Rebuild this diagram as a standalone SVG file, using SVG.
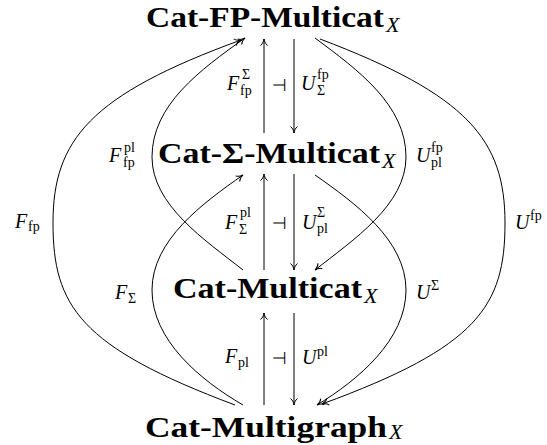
<svg xmlns="http://www.w3.org/2000/svg" width="547" height="445" viewBox="0 0 547 445">
<style>
.n{font-family:"Liberation Serif",serif;font-weight:bold;font-size:29px;fill:#000}
.x{font-family:"Liberation Serif",serif;font-style:italic;font-size:22px;fill:#000}
.m{font-family:"Liberation Serif",serif;font-style:italic;font-size:20px;fill:#000}
.s{font-family:"Liberation Serif",serif;font-size:14px;fill:#000}
.adj{font-family:"DejaVu Sans",sans-serif;font-size:17px;text-anchor:middle;fill:#000}
.c{fill:none;stroke:#000;stroke-width:1;marker-end:url(#ah)}
</style>
<defs>
<marker id="ah" viewBox="-8 -5 10 10" refX="0" refY="0" markerWidth="10" markerHeight="10" markerUnits="userSpaceOnUse" orient="auto" overflow="visible">
<path d="M-6.5,-3.5 C-5,-1.2 -1.5,-0.2 0,0 C-1.5,0.2 -5,1.2 -6.5,3.5" fill="none" stroke="#000" stroke-width="1"/>
</marker>
</defs>
<g id="node-fp">
<text class="n" x="146" y="27" textLength="238" lengthAdjust="spacingAndGlyphs">Cat-FP-Multicat</text>
<text class="x" x="386" y="32">X</text>
</g>
<g id="node-sigma">
<text class="n" x="158" y="163" textLength="222" lengthAdjust="spacingAndGlyphs">Cat-Σ-Multicat</text>
<text class="x" x="382" y="168">X</text>
</g>
<g id="node-multicat">
<text class="n" x="173" y="298" textLength="189" lengthAdjust="spacingAndGlyphs">Cat-Multicat</text>
<text class="x" x="364" y="303">X</text>
</g>
<g id="node-multigraph">
<text class="n" x="145" y="437" textLength="242" lengthAdjust="spacingAndGlyphs">Cat-Multigraph</text>
<text class="x" x="389" y="439">X</text>
</g>
<g id="connectors">
<path class="c" d="M235,405 C80,347 53,306 53,223 C53,140 90,95 241,40"/>
<path class="c" d="M243,270 C205,240 152,205 152,157 C152,105 200,70 245,38"/>
<path class="c" d="M243,405 C200,380 152,340 152,290 C152,240 203,203 243,175"/>
<path class="c" d="M320,39 C468,95 505,140 505,223 C505,306 478,347 322,404"/>
<path class="c" d="M315,38 C358,70 406,105 406,157 C406,205 353,240 315,270"/>
<path class="c" d="M315,175 C355,203 406,240 406,290 C406,340 358,380 317,405"/>
<path class="c" d="M264,133 V39"/>
<path class="c" d="M294,39 V133"/>
<path class="c" d="M264,270 V174"/>
<path class="c" d="M294,174 V270"/>
<path class="c" d="M264,405 V313"/>
<path class="c" d="M294,313 V405"/>
</g>
<g id="labels">
<text class="m" x="15" y="228">F</text><text class="s" x="28" y="231">fp</text>
<text class="m" x="109" y="162">F</text><text class="s" x="124" y="152">pl</text><text class="s" x="123" y="167">fp</text>
<text class="m" x="115" y="299">F</text><text class="s" x="128" y="303">Σ</text>
<text class="m" x="227" y="90">F</text><text class="s" x="242" y="79">Σ</text><text class="s" x="240" y="95">fp</text>
<text class="adj" x="279.5" y="91">⊣</text>
<text class="m" x="301" y="90">U</text><text class="s" x="317" y="79">fp</text><text class="s" x="317" y="95">Σ</text>
<text class="m" x="416" y="162">U</text><text class="s" x="431" y="152">fp</text><text class="s" x="431" y="167">pl</text>
<text class="m" x="225" y="229">F</text><text class="s" x="240" y="217">pl</text><text class="s" x="239" y="234">Σ</text>
<text class="adj" x="279.5" y="229">⊣</text>
<text class="m" x="302" y="229">U</text><text class="s" x="317" y="217">Σ</text><text class="s" x="317" y="233">pl</text>
<text class="m" x="416" y="299">U</text><text class="s" x="431" y="290">Σ</text>
<text class="m" x="515" y="229">U</text><text class="s" x="530" y="220">fp</text>
<text class="m" x="225" y="363">F</text><text class="s" x="238" y="367">pl</text>
<text class="adj" x="279.5" y="364">⊣</text>
<text class="m" x="302" y="364">U</text><text class="s" x="317" y="356">pl</text>
</g>
</svg>
